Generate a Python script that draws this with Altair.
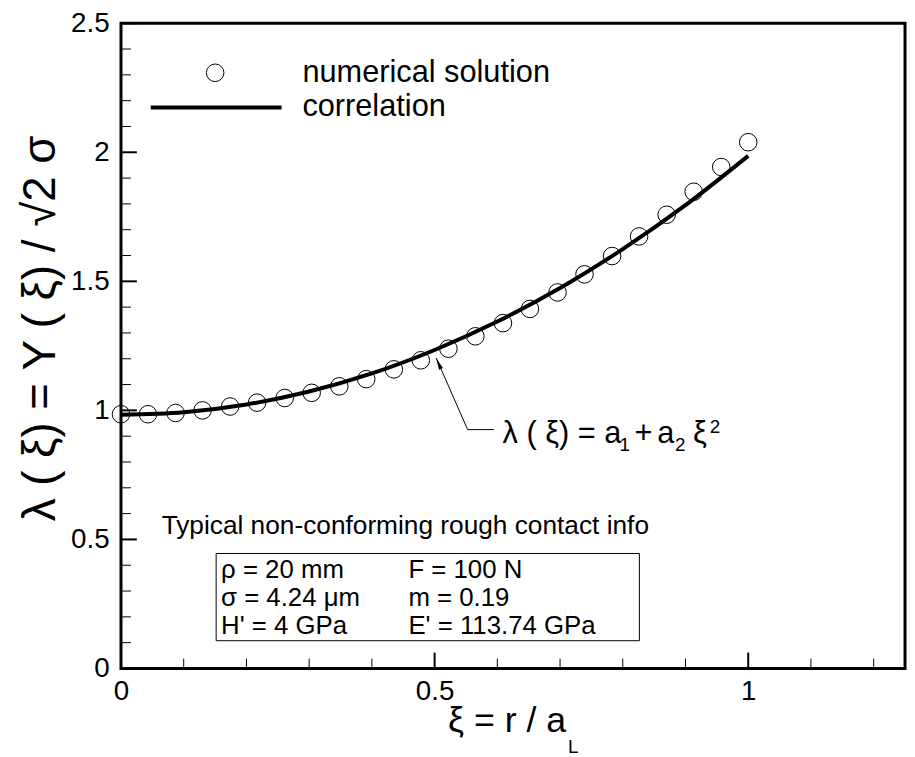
import altair as alt
import pandas as pd

# ---------------- data ----------------
xi_num = [0.0, 0.043, 0.087, 0.13, 0.174, 0.217, 0.261, 0.304, 0.348, 0.391,
          0.435, 0.478, 0.522, 0.565, 0.609, 0.652, 0.696, 0.739, 0.783, 0.826,
          0.87, 0.913, 0.957, 1.0]
lam_num = [0.985, 0.985, 0.99, 1.0, 1.015, 1.03, 1.048, 1.068, 1.093, 1.121,
           1.159, 1.194, 1.239, 1.287, 1.338, 1.393, 1.457, 1.527, 1.598, 1.674,
           1.758, 1.847, 1.943, 2.039]

xi_corr = [0.0, 0.1, 0.2, 0.3, 0.4, 0.5, 0.6, 0.7, 0.8, 0.9, 1.0]
lam_corr = [0.983, 0.993, 1.023, 1.073, 1.143, 1.234, 1.344, 1.474, 1.625, 1.795, 1.986]

x_labels = [0, 0.5, 1]
y_labels = [0, 0.5, 1, 1.5, 2, 2.5]
x_major = [0, 0.5, 1.0]
x_minor = [0.1, 0.2, 0.3, 0.4, 0.6, 0.7, 0.8, 0.9, 1.1, 1.2]
y_major = [0, 0.5, 1.0, 1.5, 2.0, 2.5]
y_minor = [0.1, 0.2, 0.3, 0.4, 0.6, 0.7, 0.8, 0.9, 1.1, 1.2, 1.3, 1.4,
           1.6, 1.7, 1.8, 1.9, 2.1, 2.2, 2.3, 2.4]

legend_labels = ["numerical solution", "correlation"]
info_title = "Typical non-conforming rough contact info"
info_col1 = ["ρ = 20 mm", "σ = 4.24 μm", "H' = 4 GPa"]
info_col2 = ["F = 100 N", "m = 0.19", "E' = 113.74 GPa"]
formula_main = "λ ( ξ) = a"
formula_parts = ["1", "+", "a", "2", "ξ", "2"]
y_title = "λ ( ξ) = Y ( ξ) / √2 σ"
x_title = "ξ = r / a"
x_title_sub = "L"

# ---------------- styling ----------------
FONT = "Liberation Sans"
W, H = 791, 651
xs = alt.Scale(domain=[0, 1.25], nice=False, zero=False)
ys = alt.Scale(domain=[0, 2.5], nice=False, zero=False)
dummy = pd.DataFrame({"d": [0]})

ax_common = dict(title=None, ticks=False, domain=False, grid=False, labelFont=FONT,
                 labelFontSize=28, labelColor="black", format="~g")
X_AXIS = alt.Axis(values=x_labels, labelPadding=9, labelFlush=False, **ax_common)
Y_AXIS = alt.Axis(values=y_labels, labelPadding=12, **ax_common)

pts = pd.DataFrame({"xi": xi_num, "lam": lam_num})
corr = pd.DataFrame({"xi": xi_corr, "lam": lam_corr})

points = alt.Chart(pts).mark_point(shape="circle", size=314, filled=False,
                                   color="black", strokeWidth=1, opacity=1).encode(
    x=alt.X("xi:Q", scale=xs, axis=X_AXIS),
    y=alt.Y("lam:Q", scale=ys, axis=Y_AXIS),
)

line = alt.Chart(corr).mark_line(color="black", strokeWidth=4, interpolate="monotone").encode(
    x=alt.X("xi:Q", scale=xs, axis=X_AXIS),
    y=alt.Y("lam:Q", scale=ys, axis=Y_AXIS),
)


def xticks(vals, length, width):
    return alt.Chart(pd.DataFrame({"xi": vals})).mark_rule(color="black", strokeWidth=width).encode(
        x=alt.X("xi:Q", scale=xs, axis=X_AXIS), y=alt.value(H), y2=alt.value(H - length))


def yticks(vals, length, width):
    return alt.Chart(pd.DataFrame({"lam": vals})).mark_rule(color="black", strokeWidth=width).encode(
        y=alt.Y("lam:Q", scale=ys, axis=Y_AXIS), x=alt.value(0), x2=alt.value(length))


def txt(s, x, y, size, align="left", baseline="middle", angle=0):
    return alt.Chart(dummy).mark_text(text=s, font=FONT, fontSize=size, align=align,
                                      baseline=baseline, color="black", angle=angle).encode(
        x=alt.value(x), y=alt.value(y))


def seg(x1, y1, x2, y2, width):
    return alt.Chart(dummy).mark_rule(color="black", strokeWidth=width).encode(
        x=alt.value(x1), y=alt.value(y1), x2=alt.value(x2), y2=alt.value(y2))


box = alt.Chart(dummy).mark_rect(fill="white", stroke="black", strokeWidth=1).encode(
    x=alt.value(96), x2=alt.value(523), y=alt.value(535), y2=alt.value(623))

leg_circle = alt.Chart(dummy).mark_point(shape="circle", size=314, filled=False, color="black",
                                         strokeWidth=1, opacity=1).encode(
    x=alt.value(95), y=alt.value(50))
leg_line = seg(30, 85, 162, 85, 4)

arrow_head = alt.Chart(dummy).mark_point(shape="M0,-1L0.35,1L-0.35,1Z", size=144, filled=True,
                                         color="black", opacity=1, angle=336).encode(
    x=alt.value(320.4), y=alt.value(343.3))

# formula pieces (plot-relative pixel positions)
FB = 424  # main baseline
formula_layers = [
    txt(formula_main, 385, FB, 31, baseline="alphabetic"),
    txt(formula_parts[0], 503, FB + 8, 19, baseline="alphabetic"),
    txt(formula_parts[1], 518, FB, 31, baseline="alphabetic"),
    txt(formula_parts[2], 541, FB, 31, baseline="alphabetic"),
    txt(formula_parts[3], 559, FB + 8, 19, baseline="alphabetic"),
    txt(formula_parts[4], 577, FB, 31, baseline="alphabetic"),
    txt(formula_parts[5], 594, FB - 11, 19, baseline="alphabetic"),
]

layers = [
    box,
    xticks(x_major, 16, 2), xticks(x_minor, 10, 1),
    yticks(y_major, 16, 2), yticks(y_minor, 10, 1),
    points, line,
    leg_circle, leg_line,
    txt(legend_labels[0], 183, 50, 31),
    txt(legend_labels[1], 183, 85, 31),
    txt(info_title, 41, 507, 26.5),
    txt(info_col1[0], 101, 552, 26), txt(info_col1[1], 101, 580, 26), txt(info_col1[2], 101, 608, 26),
    txt(info_col2[0], 290, 552, 26), txt(info_col2[1], 290, 580, 26), txt(info_col2[2], 290, 608, 26),
    seg(318, 337.7, 349.7, 410, 1), seg(349.7, 410, 376.3, 410, 1), arrow_head,
    *formula_layers,
    txt(y_title, -81, 308, 46, align="center", angle=270),
    txt(x_title, 330, 715, 36, baseline="alphabetic"),
    txt(x_title_sub, 451, 736, 19, baseline="alphabetic"),
]

chart = alt.layer(*layers).properties(
    width=W, height=H,
    autosize=alt.AutoSizeParams(type="none"),
    padding={"left": 114, "top": 12, "right": 2, "bottom": 92},
    background="white",
).configure_view(stroke="black", strokeWidth=3)

chart.save("out.html", embed_options={"renderer": "svg", "actions": False})
